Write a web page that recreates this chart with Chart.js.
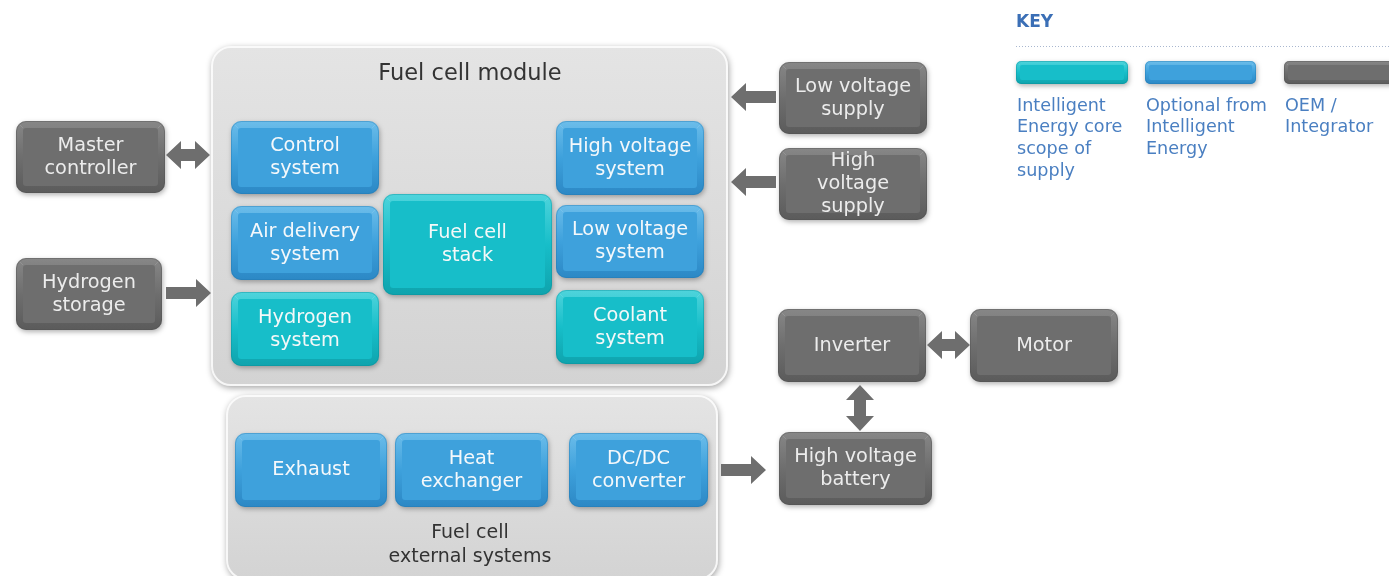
<!DOCTYPE html>
<html><head><meta charset="utf-8">
<script src="https://cdn.jsdelivr.net/npm/chart.js@4/dist/chart.umd.min.js"></script>
<style>html,body{margin:0;padding:0;background:#fff;overflow:hidden}#wrap{width:1389px;height:576px;position:relative}</style>
</head><body><div id="wrap"><canvas id="c" width="1389" height="576"></canvas></div>
<script>
// ---- content ----
const containerLabels = ['Fuel cell module', 'Fuel cell\nexternal systems'];
const boxLabels = [
  'Control\nsystem', 'Air delivery\nsystem', 'Hydrogen\nsystem', 'Fuel cell\nstack',
  'High voltage\nsystem', 'Low voltage\nsystem', 'Coolant\nsystem',
  'Exhaust', 'Heat\nexchanger', 'DC/DC\nconverter',
  'Master\ncontroller', 'Hydrogen\nstorage', 'Low voltage\nsupply', 'High\nvoltage\nsupply',
  'Inverter', 'Motor', 'High voltage\nbattery'
];
const boxKinds = [
  'optional', 'optional', 'core', 'core',
  'optional', 'optional', 'core',
  'optional', 'optional', 'optional',
  'oem', 'oem', 'oem', 'oem',
  'oem', 'oem', 'oem'
];
const arrowKinds = ['both', 'right', 'left', 'left', 'both', 'vboth', 'right'];
const keyTitle = 'KEY';
const keyKinds = ['core', 'optional', 'oem'];
const keyLabels = ['Intelligent\nEnergy core\nscope of\nsupply', 'Optional from\nIntelligent\nEnergy', 'OEM /\nIntegrator'];

// ---- layout (diagram coordinates) ----
const containerRects = [[211, 46, 728, 386], [226, 395, 718, 580]];
const containerTextY = [74, 533];
const boxRects = [
  [231, 121, 379, 194], [231, 206, 379, 280], [231, 292, 379, 366], [383, 194, 552, 295],
  [556, 121, 704, 195], [556, 205, 704, 278], [556, 290, 704, 364],
  [235, 433, 387, 507], [395, 433, 548, 507], [569, 433, 708, 507],
  [16, 121, 165, 193], [16, 258, 162, 330], [779, 62, 927, 134], [779, 148, 927, 220],
  [778, 309, 926, 382], [970, 309, 1118, 382], [779, 432, 932, 505]
];
const arrowPos = [
  [166, 155, 210, 155], [166, 293, 211, 293], [776, 97, 731, 97], [776, 182, 731, 182],
  [927, 345, 970, 345], [860, 385, 860, 431], [721, 470, 766, 470]
];
const keyRects = [[1016, 61, 1128, 84], [1145, 61, 1256, 84], [1284, 61, 1400, 84]];

const palette = {
  core:     {face: '#17bec9', top: '#4fd4dc', bot: '#0fa3ad', edge: '#0a8f99', text: '#f4f8f8'},
  optional: {face: '#3ea1dc', top: '#6cbdea', bot: '#2c88c5', edge: '#2377b0', text: '#f4f8fb'},
  oem:      {face: '#6e6e6e', top: '#878787', bot: '#5b5b5b', edge: '#505050', text: '#ececec'}
};
const FONT = '"DejaVu Sans", Verdana, sans-serif';

function rr(ctx, x, y, w, h, r) {
  ctx.beginPath();
  ctx.moveTo(x + r, y);
  ctx.arcTo(x + w, y, x + w, y + h, r);
  ctx.arcTo(x + w, y + h, x, y + h, r);
  ctx.arcTo(x, y + h, x, y, r);
  ctx.arcTo(x, y, x + w, y, r);
  ctx.closePath();
}

const diagramPlugin = {
  id: 'diagram',
  afterDatasetsDraw(chart) {
    const ctx = chart.ctx, sx = chart.scales.x, sy = chart.scales.y;
    const P = (x, y) => [sx.getPixelForValue(x), sy.getPixelForValue(y)];
    const rect = r => { const a = P(r[0], r[1]), b = P(r[2], r[3]); return [a[0], a[1], b[0] - a[0], b[1] - a[1]]; };

    function bevelBox(r, kind, rad, inset) {
      const [x, y, w, h] = rect(r);
      const c = palette[kind];
      ctx.save();
      ctx.shadowColor = 'rgba(0,0,0,0.3)';
      ctx.shadowBlur = 5; ctx.shadowOffsetX = 1; ctx.shadowOffsetY = 2;
      rr(ctx, x, y, w, h, rad);
      let g = ctx.createLinearGradient(0, y, 0, y + h);
      g.addColorStop(0, c.top); g.addColorStop(0.5, c.face); g.addColorStop(1, c.bot);
      ctx.fillStyle = g; ctx.fill();
      ctx.restore();
      ctx.save();
      rr(ctx, x + inset, y + inset, w - 2 * inset, h - 2 * inset, Math.max(2, rad - inset));
      ctx.fillStyle = c.face; ctx.fill();
      ctx.strokeStyle = 'rgba(255,255,255,0.12)'; ctx.lineWidth = 1;
      ctx.beginPath();
      ctx.moveTo(x + 3, y + 3); ctx.lineTo(x + inset, y + inset);
      ctx.moveTo(x + w - 3, y + 3); ctx.lineTo(x + w - inset, y + inset);
      ctx.stroke();
      rr(ctx, x + 0.5, y + 0.5, w - 1, h - 1, rad);
      ctx.strokeStyle = c.edge; ctx.globalAlpha = 0.4; ctx.stroke();
      ctx.restore();
      return [x, y, w, h];
    }

    function multiline(text, cx, cy, lh) {
      const lines = text.split('\n');
      const y0 = cy - (lines.length - 1) * lh / 2;
      lines.forEach((l, i) => ctx.fillText(l, cx, y0 + i * lh));
    }

    // containers
    containerRects.forEach((r, i) => {
      const [x, y, w, h] = rect(r);
      ctx.save();
      ctx.shadowColor = 'rgba(0,0,0,0.35)'; ctx.shadowBlur = 6; ctx.shadowOffsetX = 1; ctx.shadowOffsetY = 2;
      rr(ctx, x, y, w, h, 20);
      const g = ctx.createLinearGradient(0, y, 0, y + h);
      g.addColorStop(0, '#e4e4e4'); g.addColorStop(1, '#d3d3d3');
      ctx.fillStyle = g; ctx.fill();
      ctx.restore();
      ctx.save();
      rr(ctx, x + 1, y + 1, w - 2, h - 2, 19);
      ctx.strokeStyle = 'rgba(255,255,255,0.8)'; ctx.lineWidth = 2; ctx.stroke();
      ctx.restore();
      ctx.save();
      ctx.fillStyle = '#333333';
      ctx.textAlign = 'center'; ctx.textBaseline = 'middle';
      const cx = sx.getPixelForValue(470);
      const ty = sy.getPixelForValue(containerTextY[i]);
      if (i === 0) { ctx.font = '22.5px ' + FONT; ctx.fillText(containerLabels[i], cx, ty); }
      else { ctx.font = '19px ' + FONT; multiline(containerLabels[i], cx, ty + 12, 24); }
      ctx.restore();
    });

    // boxes
    boxRects.forEach((r, i) => {
      const [x, y, w, h] = bevelBox(r, boxKinds[i], 10, 7);
      ctx.save();
      ctx.fillStyle = palette[boxKinds[i]].text;
      ctx.font = '19.3px ' + FONT; ctx.textAlign = 'center'; ctx.textBaseline = 'middle';
      multiline(boxLabels[i], x + w / 2, y + h / 2, 23);
      ctx.restore();
    });

    // arrows
    ctx.save();
    ctx.fillStyle = '#6e6e6e';
    arrowKinds.forEach((k, i) => {
      const [a, b] = [P(arrowPos[i][0], arrowPos[i][1]), P(arrowPos[i][2], arrowPos[i][3])];
      const vertical = k === 'vboth';
      const len = vertical ? b[1] - a[1] : Math.abs(b[0] - a[0]);
      const dir = vertical ? 1 : Math.sign(b[0] - a[0]);
      const hw = 6, hh = 14, hl = 15;
      ctx.save();
      ctx.translate(a[0], a[1]);
      if (vertical) ctx.rotate(Math.PI / 2);
      else if (dir < 0) ctx.scale(-1, 1);
      ctx.beginPath();
      if (k === 'both' || k === 'vboth') {
        ctx.moveTo(0, 0); ctx.lineTo(hl, -hh); ctx.lineTo(hl, -hw); ctx.lineTo(len - hl, -hw);
        ctx.lineTo(len - hl, -hh); ctx.lineTo(len, 0); ctx.lineTo(len - hl, hh); ctx.lineTo(len - hl, hw);
        ctx.lineTo(hl, hw); ctx.lineTo(hl, hh);
      } else {
        ctx.moveTo(0, -hw); ctx.lineTo(len - hl, -hw); ctx.lineTo(len - hl, -hh); ctx.lineTo(len, 0);
        ctx.lineTo(len - hl, hh); ctx.lineTo(len - hl, hw); ctx.lineTo(0, hw);
      }
      ctx.closePath(); ctx.fill();
      ctx.restore();
    });
    ctx.restore();

    // key
    ctx.save();
    const kp = P(1016, 23);
    ctx.fillStyle = '#3b6fb6'; ctx.font = 'bold 17px ' + FONT;
    ctx.textAlign = 'left'; ctx.textBaseline = 'middle';
    ctx.fillText(keyTitle, kp[0], kp[1]);
    const l0 = P(1016, 46.5), l1 = P(1389, 46.5);
    ctx.strokeStyle = '#a9b7cf'; ctx.lineWidth = 1; ctx.setLineDash([1, 2]);
    ctx.beginPath(); ctx.moveTo(l0[0], l0[1]); ctx.lineTo(l1[0], l1[1]); ctx.stroke();
    ctx.restore();
    keyRects.forEach((r, i) => {
      const [x, y, w, h] = bevelBox(r, keyKinds[i], 5, 4);
      ctx.save();
      ctx.fillStyle = '#4a7fc1'; ctx.font = '17.6px ' + FONT;
      ctx.textAlign = 'left'; ctx.textBaseline = 'middle';
      keyLabels[i].split('\n').forEach((l, j) => ctx.fillText(l, x + 1, sy.getPixelForValue(106 + j * 21.7)));
      ctx.restore();
    });
  }
};

new Chart(document.getElementById('c'), {
  type: 'scatter',
  data: { datasets: [{ data: boxRects.map(r => ({x: (r[0] + r[2]) / 2, y: (r[1] + r[3]) / 2})), pointRadius: 0 }] },
  options: {
    responsive: false, animation: false, events: [],
    layout: { padding: 0 },
    plugins: { legend: { display: false }, tooltip: { enabled: false } },
    scales: {
      x: { type: 'linear', min: 0, max: 1389, display: false },
      y: { type: 'linear', min: 0, max: 576, reverse: true, display: false }
    }
  },
  plugins: [diagramPlugin]
});
</script>
</body></html>
